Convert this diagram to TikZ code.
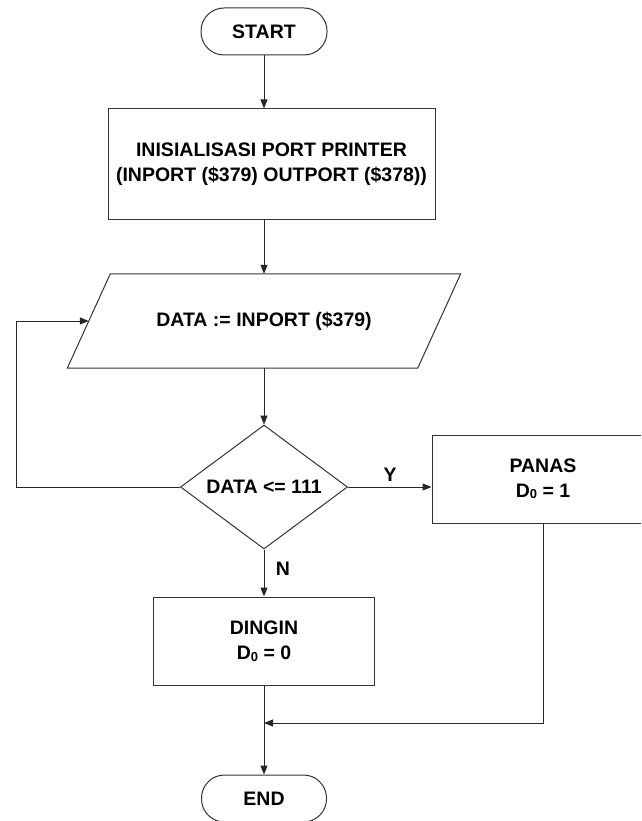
\documentclass[tikz,border=0pt]{standalone}
\usepackage{fontspec}
\setmainfont{Liberation Sans}
\usetikzlibrary{shapes.geometric,arrows.meta,calc}
\newcommand{\dsub}[1]{D\raisebox{-1.5pt}{\fontsize{13}{13}\selectfont #1}}
\begin{document}
\begin{tikzpicture}[x=1pt,y=-1pt,
  every node/.style={font=\fontsize{19.5}{25}\selectfont\bfseries, text=black},
  stadium/.style={draw=black!80, line width=1pt, rectangle, rounded corners=23pt, minimum height=47pt, inner sep=0pt},
  procbox/.style={draw=black!80, line width=1pt, rectangle, align=center, inner sep=0pt},
  decbox/.style={draw=black!80, line width=1pt, diamond, aspect=1.35, inner sep=0pt, minimum width=167pt, minimum height=124pt},
  conn/.style={draw=black!85, line width=1pt},
  arr/.style={conn, -{Triangle[length=9pt,width=7pt]}},
  lbl/.style={font=\fontsize{19.5}{25}\selectfont\bfseries}
]
\useasboundingbox (0,0) rectangle (641,821);
\clip (0,0) rectangle (641,821);
\node[stadium, minimum width=126pt] (start) at (264,31.5) {START};
\node[procbox, minimum width=327pt, minimum height=110pt] (init) at (271.5,164)
  {INISIALISASI PORT PRINTER\\(INPORT (\$379) OUTPORT (\$378))};
\node[minimum width=350pt, minimum height=94pt, inner sep=0pt] (in) at (264,321) {DATA := INPORT (\$379)};
\draw[draw=black!80, line width=1pt]
  ([xshift=21.5pt]in.north west) -- ([xshift=21.5pt]in.north east)
  -- ([xshift=-21.5pt]in.south east) -- ([xshift=-21.5pt]in.south west) -- cycle;
\node[decbox] (dec) at (264,487) {DATA <= 111};
\node[procbox, minimum width=222pt, minimum height=88pt] (panas) at (543,479) {PANAS\\\dsub{0} = 1};
\node[procbox, minimum width=221pt, minimum height=88pt] (dingin) at (264,641) {DINGIN\\\dsub{0} = 0};
\node[stadium, minimum width=125pt] (end) at (264,798.5) {END};
\coordinate (lp) at (16,321);
\coordinate (mg) at (264,723);
\node[lbl] (ylab) at (390,475) {Y};
\node[lbl] (nlab) at (283,569) {N};
\draw[arr] (start.south) -- (start.south |- init.north);
\draw[arr] (init.south -| start.south) -- (in.north);
\draw[arr] (in.south) -- (dec.north);
\draw[arr] (dec.west) -| (lp) -- (in.west);
\draw[arr] (dec.east) -- (dec.east -| panas.west);
\draw[arr] (dec.south) -- (dingin.north);
\draw[conn] (dingin.south) -- (mg);
\draw[arr] (mg) -- (end.north);
\draw[arr] (panas.south) |- (mg);
\end{tikzpicture}
\end{document}
